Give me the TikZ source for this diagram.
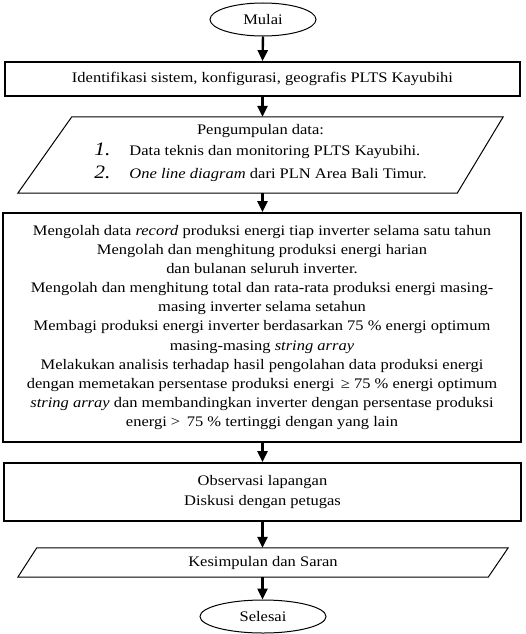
\documentclass[tikz,border=0pt]{standalone}
\usepackage{fontspec}
\setmainfont{Liberation Serif}[FakeStretch=1.13]
\usetikzlibrary{shapes.geometric,arrows.meta}
\begin{document}
\begin{tikzpicture}[x=1pt,y=-1pt,
  every node/.style={font=\fontsize{14.6}{20}\selectfont, inner sep=0pt, align=center},
  term/.style={ellipse, draw, line width=1pt, inner sep=0pt},
  procbox/.style={rectangle, draw, line width=1.8pt},
  iobox/.style={rectangle, draw=none},
  para/.style={line width=1pt},
  bigtext/.style={font=\fontsize{14.6}{19.1}\selectfont},
  listtext/.style={font=\fontsize{14.6}{23}\selectfont},
  flow/.style={line width=2.4pt, -{Triangle[length=11pt,width=10pt]}}
]
\useasboundingbox (0,0) rectangle (525,634);

\node[term, minimum width=106pt, minimum height=33pt] (mulai) at (263,19.5) {Mulai};

\node[procbox, minimum width=515pt, minimum height=34pt] (ident) at (262.5,79)
  {Identifikasi sistem, konfigurasi, geografis PLTS Kayubihi};

\node[iobox, listtext, minimum width=485pt, minimum height=76pt] (data) at (260.5,155)
  {Pengumpulan data:\\
   \begin{tabular}{@{}l@{\hspace{19pt}}l@{}}
   {\fontsize{19}{23}\selectfont\itshape 1.} & Data teknis dan monitoring PLTS Kayubihi.\\
   {\fontsize{19}{23}\selectfont\itshape 2.} & \textit{One line diagram} dari PLN Area Bali Timur.
   \end{tabular}};
\draw[para] ([xshift=54pt]data.north west) -- (data.north east)
  -- ([xshift=-46pt]data.south east) -- (data.south west) -- cycle;

\node[procbox, bigtext, minimum width=518pt, minimum height=229pt] (olah) at (262,327.5)
  {Mengolah data \textit{record} produksi energi tiap inverter selama satu tahun\\
   Mengolah dan menghitung produksi energi harian\\
   dan bulanan seluruh inverter.\\
   Mengolah dan menghitung total dan rata-rata produksi energi masing-\\
   masing inverter selama setahun\\
   Membagi produksi energi inverter berdasarkan 75 \% energi optimum\\
   masing-masing \textit{string array}\\
   Melakukan analisis terhadap hasil pengolahan data produksi energi\\
   dengan memetakan persentase produksi energi\, ≥ 75 \% energi optimum\\
   \textit{string array} dan membandingkan inverter dengan persentase produksi\\
   energi >\, 75 \% tertinggi dengan yang lain};

\node[procbox, minimum width=517pt, minimum height=58pt] (obs) at (262.5,492)
  {Observasi lapangan\\ Diskusi dengan petugas};

\node[iobox, minimum width=490pt, minimum height=29pt] (kes) at (263,562.5)
  {Kesimpulan dan Saran};
\draw[para] ([xshift=19pt]kes.north west) -- (kes.north east)
  -- ([xshift=-20pt]kes.south east) -- (kes.south west) -- cycle;

\node[term, minimum width=126pt, minimum height=33pt] (selesai) at (263,616.5) {Selesai};

\draw[flow] (mulai.south) -- (ident.north);
\draw[flow] (ident.south) -- (ident.south |- data.north);
\draw[flow] (ident.south |- data.south) -- (ident.south |- olah.north);
\draw[flow] (ident.south |- olah.south) -- (ident.south |- obs.north);
\draw[flow] (ident.south |- obs.south) -- (ident.south |- kes.north);
\draw[flow] (ident.south |- kes.south) -- (ident.south |- selesai.north);
\end{tikzpicture}
\end{document}
